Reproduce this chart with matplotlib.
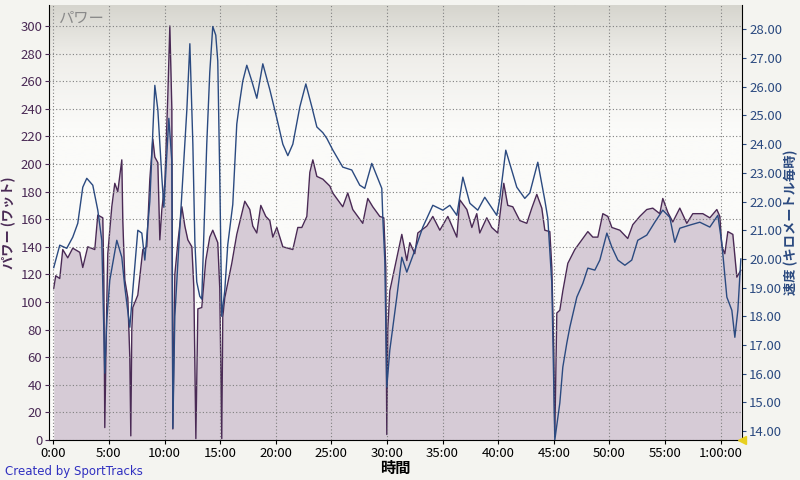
import numpy as np
import matplotlib
matplotlib.use("Agg")
import matplotlib.pyplot as plt
from matplotlib.colors import LinearSegmentedColormap

plt.rcParams['font.family'] = ['Liberation Sans Narrow', 'Noto Sans CJK JP', 'DejaVu Sans']
JP = ['Noto Sans CJK JP', 'DejaVu Sans']

# power trace (minutes, watts)
power_t = [0.04, 0.22, 0.58, 0.85, 1.30, 1.75, 2.38, 2.65, 3.10, 3.73, 4.00, 4.45, 4.54, 4.63, 4.81,
           4.90, 5.26, 5.53, 5.80, 6.16, 6.25, 6.43, 6.70, 6.88, 6.97, 7.06, 7.15, 7.60, 8.05, 8.41,
           8.68, 8.95, 9.13, 9.40, 9.58, 9.76, 10.03, 10.30, 10.48, 10.66, 10.75, 10.93, 11.20, 11.56,
           11.83, 12.10, 12.46, 12.64, 12.82, 13.00, 13.35, 13.71, 14.07, 14.34, 14.79, 14.97, 15.15,
           15.24, 15.42, 16.05, 16.50, 17.22, 17.67, 17.94, 18.30, 18.66, 19.11, 19.47, 19.74, 20.10,
           20.64, 21.54, 21.99, 22.35, 22.80, 23.07, 23.34, 23.70, 24.24, 24.87, 25.13, 26.03, 26.48,
           26.93, 27.83, 28.28, 28.73, 29.36, 29.72, 29.90, 29.99, 30.08, 30.26, 30.71, 31.34, 31.79,
           32.06, 32.51, 32.78, 33.59, 34.13, 34.76, 35.48, 36.29, 36.56, 37.19, 37.64, 38.08, 38.35,
           38.98, 39.43, 39.97, 40.33, 40.51, 40.87, 41.32, 41.95, 42.58, 43.03, 43.48, 43.93, 44.20,
           44.65, 44.83, 45.01, 45.10, 45.28, 45.55, 45.82, 46.27, 46.90, 47.53, 48.07, 48.52, 48.97,
           49.42, 49.87, 50.23, 50.95, 51.66, 52.11, 52.74, 53.37, 53.91, 54.54, 54.81, 55.26, 55.71,
           56.34, 56.97, 57.51, 58.41, 59.04, 59.67, 59.94, 60.12, 60.39, 60.66, 61.11, 61.47, 61.83]
power_w = [110, 119, 117, 138, 132, 139, 136, 125, 140, 138, 163, 161, 120, 9, 100,
           135, 169, 186, 180, 203, 159, 116, 103, 60, 3, 80, 96, 105, 138, 140,
           189, 218, 205, 201, 145, 167, 186, 250, 300, 240, 8, 120, 143, 169,
           155, 145, 140, 110, 1, 95, 96, 130, 147, 152, 143, 110, 1,
           89, 103, 128, 149, 173, 167, 155, 150, 170, 162, 159, 147, 154,
           140, 138, 154, 154, 162, 194, 203, 191, 189, 184, 179, 169, 179,
           167, 157, 175, 169, 162, 161, 125, 4, 80, 108, 125, 149, 130,
           143, 135, 150, 155, 162, 152, 162, 147, 174, 167, 154, 164, 150,
           161, 154, 150, 174, 186, 170, 169, 159, 157, 168, 178, 168, 152,
           151, 125, 63, 4, 92, 94, 108, 128, 138, 145, 151, 147, 147,
           164, 162, 154, 152, 146, 156, 162, 167, 168, 164, 175, 165, 158,
           168, 157, 164, 164, 161, 167, 162, 140, 135, 151, 149, 118, 123]

# speed trace (minutes, km/h)
speed_t = [0.04, 0.58, 1.21, 1.75, 2.20, 2.65, 3.01, 3.55, 4.00, 4.36, 4.63, 4.81, 5.08, 5.71, 6.16,
           6.43, 6.88, 7.15, 7.60, 7.96, 8.23, 8.68, 9.13, 9.40, 9.76, 9.94, 10.21, 10.39, 10.66,
           10.75, 10.93, 11.38, 12.01, 12.28, 12.55, 12.73, 12.90, 13.17, 13.35, 13.80, 14.07, 14.34,
           14.61, 14.79, 14.97, 15.15, 15.42, 15.69, 16.14, 16.50, 16.77, 17.04, 17.40, 17.85, 18.30,
           18.84, 19.47, 20.10, 20.64, 21.09, 21.54, 22.17, 22.71, 23.25, 23.70, 24.24, 24.60, 25.13,
           26.03, 26.84, 27.56, 28.01, 28.64, 29.09, 29.54, 29.63, 29.81, 29.99, 30.26, 30.89, 31.34,
           31.79, 32.51, 33.23, 34.13, 35.03, 35.66, 36.29, 36.83, 37.46, 38.17, 38.80, 39.88, 40.15,
           40.69, 41.68, 42.40, 42.85, 43.57, 44.20, 44.47, 44.83, 45.10, 45.55, 45.82, 46.18, 46.45,
           47.08, 47.62, 48.07, 48.70, 49.15, 49.78, 50.23, 50.77, 51.40, 52.02, 52.56, 53.37, 54.09,
           54.81, 55.44, 55.89, 56.34, 57.24, 58.14, 59.04, 59.76, 60.12, 60.57, 61.02, 61.29, 61.56,
           61.83]
speed_kmh = [19.7, 20.48, 20.37, 20.76, 21.24, 22.50, 22.81, 22.57, 21.70, 20.65, 16.02, 17.87, 19.26,
             20.65, 20.06, 19.02, 17.62, 18.91, 21.00, 20.90, 19.96, 22.0, 26.05, 25.2, 22.85, 21.8,
             23.7, 24.9, 23.4, 14.1, 18.0, 21.1, 25.2, 27.5, 24.0, 20.6, 19.2, 18.7, 18.6, 24.0, 26.5,
             28.1, 27.8, 26.9, 22.85, 18.0, 18.9, 20.5, 21.9, 24.7, 25.5, 26.2, 26.75, 26.2, 25.6,
             26.8, 25.9, 24.9, 24.0, 23.6, 24.0, 25.3, 26.1, 25.3, 24.6, 24.4, 24.2, 23.8,
             23.2, 23.1, 22.57, 22.46, 23.33, 22.9, 22.46, 21.45, 19.96, 15.53, 16.82, 18.67, 20.06,
             19.54, 20.30, 21.11, 21.87, 21.70, 21.87, 21.52, 22.85, 21.94, 21.70, 22.15, 21.52, 22.1,
             23.79, 22.50, 22.11, 22.3, 23.37, 22.05, 21.42, 19.15, 13.69, 14.98, 16.23, 17.07, 17.62,
             18.67, 19.15, 19.68, 19.61, 19.96, 20.90, 20.41, 19.96, 19.78, 19.96, 20.65, 20.83, 21.28,
             21.70, 21.45, 20.58, 21.07, 21.18, 21.28, 21.11, 21.52, 20.55, 18.67, 18.21, 17.27, 18.21,
             20.0]

x_ticks = [0, 5, 10, 15, 20, 25, 30, 35, 40, 45, 50, 55, 60]
x_labels = ['0:00', '5:00', '10:00', '15:00', '20:00', '25:00', '30:00', '35:00',
            '40:00', '45:00', '50:00', '55:00', '1:00:00']
power_ticks = list(range(0, 301, 20))
speed_ticks = list(range(14, 29))

fig = plt.figure(figsize=(8, 4.8), dpi=100, facecolor='#f4f4f0')
ax = fig.add_axes([49.3 / 800, 40 / 480, 693 / 800, 435 / 480])
ax.set_xlim(-0.36, 61.96)
ax.set_ylim(0, 315.2)

# background gradient of the plot area, grey only near the top
grad = np.linspace(0, 1, 256).reshape(-1, 1)
cmap = LinearSegmentedColormap.from_list(
    'bg', [(0, '#fbfbf9'), (0.72, '#fbfbf9'), (0.88, '#efeeea'), (1, '#d6d5ce')])
ax.imshow(grad, aspect='auto', cmap=cmap, extent=[-0.36, 61.96, 0, 315.2],
          origin='lower', zorder=0)
ax.set_facecolor('#fbfbf9')

ax.set_xticks(x_ticks)
ax.set_xticklabels(x_labels)
ax.set_yticks(power_ticks)
ax.grid(True, color='#808080', linestyle=(0, (1, 2)), linewidth=0.8)
ax.set_axisbelow(False)
for gl in ax.get_xgridlines() + ax.get_ygridlines():
    gl.set_zorder(1.5)

ax.fill_between(power_t, power_w, 0, color='#d6cbd6', zorder=1, linewidth=0)
ax.plot(power_t, power_w, color='#4a2a55', linewidth=1.0, zorder=2)

ax.tick_params(axis='y', colors='#4a2a55', labelsize=9.5, length=3, pad=2)
ax.tick_params(axis='x', colors='black', labelsize=9.5, length=3, pad=2)
ax.spines['top'].set_visible(False)
ax.spines['right'].set_visible(False)
ax.set_ylabel('パワー (ワット)', family=JP, fontsize=9.5, fontweight='bold',
              color='#4a2a55', labelpad=3)
ax.set_xlabel('時間', family=JP, fontsize=11, fontweight='bold', labelpad=0)
ax.text(0.012, 0.99, 'パワー', transform=ax.transAxes, family=JP, fontsize=11,
        style='italic', color='#8a8a8a', va='top', ha='left')

ax2 = ax.twinx()
ax2.set_ylim(13.69, 28.85)
ax2.set_yticks(speed_ticks)
ax2.set_yticklabels(['%.2f' % s for s in speed_ticks])
ax2.plot(speed_t, speed_kmh, color='#2b4a80', linewidth=1.0, zorder=3)
ax2.tick_params(axis='y', colors='#2b4a80', labelsize=9.5, length=3, pad=2)
ax2.spines['top'].set_visible(False)
ax2.spines['left'].set_visible(False)
ax2.spines['bottom'].set_visible(False)
ax2.set_ylabel('速度 (キロメートル毎時)', family=JP, fontsize=9.5, fontweight='bold',
               color='#2b4a80', labelpad=1)
ax2.plot([61.96], [13.69], marker='<', color='#e8d020', markersize=6, clip_on=False, zorder=5)

fig.text(5 / 800, 1 - 472 / 480, 'Created by SportTracks', color='#3030c0', fontsize=8.5,
         family=['DejaVu Sans'], va='center')

fig.savefig('out.png', dpi=100, facecolor=fig.get_facecolor())
